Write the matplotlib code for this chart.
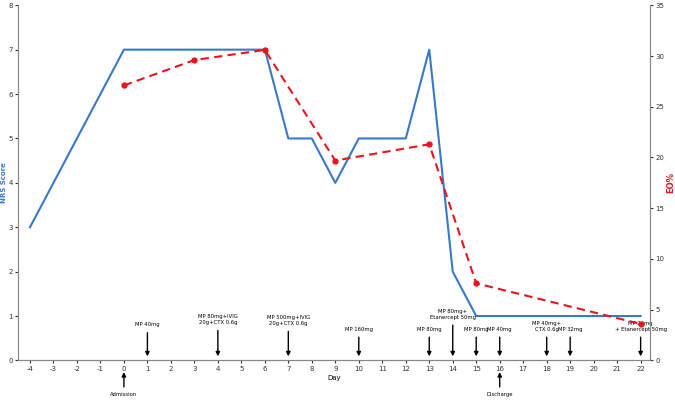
import matplotlib.pyplot as plt

plt.rcParams["axes.unicode_minus"] = False

# Data
nrs_days = [-4, 0, 6, 7, 8, 9, 10, 12, 13, 14, 15, 22]
nrs_score = [3, 7, 7, 5, 5, 4, 5, 5, 7, 2, 1, 1]
eo_days = [0, 3, 6, 9, 13, 15, 22]
eo_pct = [27.1, 29.6, 30.6, 19.7, 21.3, 7.6, 3.6]

# treatment annotations: day, text, text height (NRS units)
treat_days = [1, 4, 7, 10, 13, 14, 15, 16, 18, 19, 22]
treat_text = ["MP 40mg", "MP 80mg+IVIG\n20g+CTX 0.6g", "MP 500mg+IVIG\n20g+CTX 0.6g",
              "MP 160mg", "MP 80mg", "MP 80mg+\nEtanercept 50mg", "MP 80mg",
              "MP 40mg", "MP 40mg+\nCTX 0.6g", "MP 32mg", "MP 24mg\n+ Etanercept 50mg"]
treat_y = [0.75, 0.8, 0.78, 0.65, 0.65, 0.92, 0.65, 0.65, 0.65, 0.65, 0.65]
events = [(0, "Admission"), (16, "Discharge")]

fig, ax = plt.subplots(figsize=(6.75, 4.05), dpi=100)
fig.subplots_adjust(left=0.027, right=0.963, top=0.987, bottom=0.11)
ax2 = ax.twinx()

ax.plot(nrs_days, nrs_score, color="#3a78c9", lw=1.5)
ax2.plot(eo_days, eo_pct, color="#e8141e", lw=1.5, ls=(0, (4, 2.5)), marker="o", ms=3.5)

ax.set_xlim(-4.5, 22.4)
ax.set_ylim(0, 8)
ax2.set_ylim(0, 35)
ax.set_xticks(range(-4, 23))
ax.set_xlabel("Day", fontsize=5, labelpad=2)
ax.set_ylabel("NRS Score", fontsize=5, color="#3a78c9", fontweight="bold", labelpad=1)
ax2.set_ylabel("EO%", fontsize=6, color="#e8141e", fontweight="bold", labelpad=1)

for a in (ax, ax2):
    a.tick_params(labelsize=5, length=2, pad=2, colors="#333333")
    for s in a.spines.values():
        s.set_color("#888888")
    a.spines["top"].set_visible(False)

for d, t, y in zip(treat_days, treat_text, treat_y):
    ax.annotate(t, xy=(d, 0.03), xytext=(d, y), ha="center", va="bottom", fontsize=3.8,
                arrowprops=dict(arrowstyle="-|>", color="black", lw=1, mutation_scale=6))

for d, t in events:
    ax.annotate(t, xy=(d, -0.2), xytext=(d, -0.72),
                ha="center", va="top", fontsize=3.8, annotation_clip=False,
                arrowprops=dict(arrowstyle="-|>", color="black", lw=1, mutation_scale=6))

fig.savefig("out.png", dpi=100)
